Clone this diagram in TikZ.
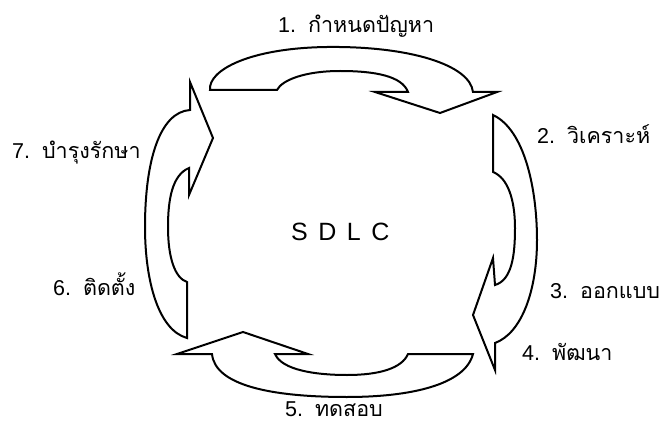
\documentclass[tikz,border=0pt]{standalone}
\usepackage{fontspec}
\setmainfont{Liberation Sans}
\newfontfamily\thaifont[Script=Thai]{Loma}
\begin{document}
\begin{tikzpicture}[x=1pt,y=-1pt,
  band/.style={draw=black,line width=2pt,line join=miter,fill=white},
  lbl/.style={anchor=base west,inner sep=0pt,font=\fontsize{21.5}{26}\selectfont}]
\useasboundingbox (0,0) rectangle (664,425);
% top arrow (1)
\path[band] (210,90) .. controls (208,70) and (250,48) .. (327,47)
  .. controls (410,46) and (470,65) .. (473,92) -- (497,92) -- (440,113) -- (375,92) -- (408,92)
  .. controls (402,76) and (375,71) .. (340,71) .. controls (305,71) and (282,80) .. (277,90) -- cycle;
% right arrow (2-4)
\path[band] (493,115) .. controls (525,130) and (537,190) .. (537,240)
  .. controls (537,290) and (522,333) .. (495,343) -- (495,370) -- (473,315) -- (493,258) -- (495,285)
  .. controls (512,280) and (515,255) .. (515,228) .. controls (515,200) and (508,178) .. (493,172) -- cycle;
% bottom arrow (5)
\path[band] (473,354) .. controls (465,385) and (410,397) .. (347,397)
  .. controls (270,397) and (215,385) .. (212,354) -- (177,354) -- (243,332) -- (308,354) -- (275,354)
  .. controls (282,370) and (315,375) .. (347,375) .. controls (380,375) and (402,368) .. (408,354) -- cycle;
% left arrow (6-7)
\path[band] (187,338) .. controls (158,330) and (145,280) .. (145,227)
  .. controls (145,160) and (160,112) .. (190,110) -- (190,82) -- (213,138) -- (189,195) -- (189,168)
  .. controls (172,175) and (168,200) .. (168,227) .. controls (168,258) and (175,278) .. (187,282) -- cycle;
% labels
\node[lbl] (l1) at (278,33) {1.\ \ \thaifont กำหนดปัญหา};
\node[lbl] (l2) at (537,143) {2.\ \ \thaifont วิเคราะห์};
\node[lbl] (l3) at (550,298) {3.\ \ \thaifont ออกแบบ};
\node[lbl] (l4) at (522,360) {4.\ \ \thaifont พัฒนา};
\node[lbl] (l5) at (285,416) {5.\ \ \thaifont ทดสอบ};
\node[lbl] (l6) at (53,295) {6.\ \ \thaifont ติดตั้ง};
\node[lbl] (l7) at (12,158) {7.\ \ \thaifont บำรุงรักษา};
\node[anchor=base west,inner sep=0pt,font=\fontsize{25}{30}\selectfont] (sdlc) at (291,240) {S\hspace{10.5pt}D\hspace{10.5pt}L\hspace{10.5pt}C};
\end{tikzpicture}
\end{document}
